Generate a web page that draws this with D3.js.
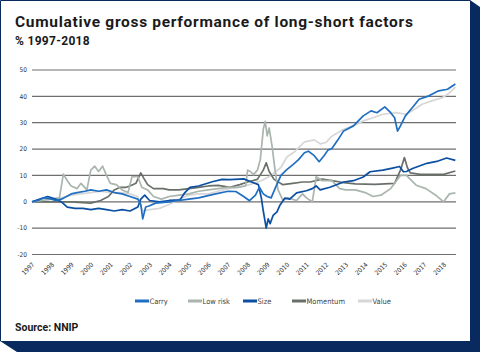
<!DOCTYPE html>
<html lang="en">
<head>
<meta charset="utf-8">
<title>Cumulative gross performance of long-short factors</title>
<script src="https://cdn.jsdelivr.net/npm/d3@7"></script>
<style>
    body { margin: 0; background: #fff; }
    svg { display: block; }
    .title { font-family: Roboto, "Noto Sans", sans-serif; font-weight: 700; fill: #1a1a1a; }
    .tick-lbl { font-family: "Liberation Sans Narrow", "DejaVu Sans Condensed", sans-serif; font-size: 6.5px; fill: #333; }
    .legend text { font-family: "Liberation Sans Narrow", "DejaVu Sans Condensed", sans-serif; font-size: 7.5px; fill: #444; }
    .grid line { stroke: #6f6f6f; stroke-width: 1.2; }
    .series { fill: none; stroke-width: 1.7; stroke-linejoin: round; }
</style>
</head>
<body>
<script>
// cumulative gross performance, % (year, value)
var carry = [[1997,0],[1997.3,0.5],[1997.6,1.5],[1997.9,1.2],[1998.2,0.5],[1998.5,1],[1999,3],[1999.3,3.5],
    [1999.7,4],[2000,4.5],[2000.4,4],[2000.8,4.5],[2001.2,3.5],[2001.6,3],[2002,2],[2002.4,1],[2002.55,-1],
    [2002.65,-6.5],[2002.8,-2],[2003,-1.5],[2003.3,-0.5],[2004,0],[2004.5,0.5],[2005,1],[2005.5,1.5],
    [2006.2,2.7],[2007,4],[2007.4,3.9],[2007.8,2],[2008.1,0.4],[2008.4,2.5],[2008.6,5.5],[2008.8,3],
    [2009,2],[2009.2,1.5],[2009.4,5],[2009.7,10],[2010,12.2],[2010.3,14],[2010.6,16],[2010.9,18.6],
    [2011.1,19.2],[2011.4,17.5],[2011.65,15.2],[2011.9,17.5],[2012.1,19.6],[2012.3,20.2],[2012.6,23.4],
    [2012.9,26.9],[2013.4,28.8],[2013.9,32.6],[2014.3,34.5],[2014.6,33.8],[2015,36],[2015.3,33.8],
    [2015.5,31.9],[2015.65,26.8],[2015.8,28.8],[2016.05,32.6],[2016.4,35.7],[2016.75,38.9],[2017.25,40.2],
    [2017.75,42.1],[2018.2,42.7],[2018.6,44.7]];

var lowRisk = [[1997,0],[1997.5,0.5],[1998,1],[1998.4,1.5],[1998.6,10.5],[1998.8,8],[1999,6],[1999.3,5],
    [1999.5,7],[1999.8,4.5],[2000,12],[2000.2,13.5],[2000.4,11.5],[2000.6,13.5],[2000.8,10],[2001,7],
    [2001.3,6.5],[2001.6,4.5],[2001.9,3.5],[2002.1,9.5],[2002.4,9.5],[2002.6,5.5],[2002.9,4.5],[2003.2,2],
    [2003.6,1],[2004,2],[2004.5,2.5],[2005,3],[2005.5,4],[2006,4.5],[2006.5,5],[2007,5.5],[2007.5,5.5],
    [2007.9,6],[2008,12],[2008.15,11.5],[2008.3,10.3],[2008.5,12],[2008.65,16],[2008.8,27.5],[2008.9,30.5],
    [2009,25],[2009.1,28],[2009.25,21],[2009.4,12],[2009.55,4.6],[2009.8,0.5],[2010.05,1.5],[2010.5,0.5],
    [2010.8,3],[2011,1.5],[2011.3,0],[2011.5,9.5],[2011.8,8],[2012.3,8],[2012.7,5],[2013,4.5],[2013.5,4.5],
    [2014,3.5],[2014.4,2],[2014.8,2.5],[2015.3,5],[2015.8,10],[2016.1,10],[2016.6,6.3],[2017.1,5],
    [2017.6,2.5],[2018,0],[2018.3,3],[2018.6,3.4]];

var size = [[1997,0],[1997.4,1],[1997.8,2],[1998.2,1],[1998.5,0],[1998.8,-2],[1999.2,-2.5],[1999.6,-2.5],
    [2000,-3],[2000.4,-2.5],[2000.8,-3],[2001.2,-3.5],[2001.6,-3],[2002,-3.5],[2002.4,-2],[2002.55,1],
    [2002.75,2.5],[2003,0.5],[2003.5,0],[2004,0.5],[2004.55,0.7],[2004.8,3.5],[2005.06,5.5],[2005.5,6],
    [2006.2,7.6],[2006.7,8.5],[2007.1,8.4],[2007.8,8.7],[2008.2,7.5],[2008.55,6.5],[2008.7,1.5],[2008.8,-3.5],
    [2008.95,-10],[2009.05,-6.5],[2009.15,-8.3],[2009.3,-5.2],[2009.5,-3.8],[2009.65,-1.3],[2009.9,1.4],
    [2010.15,1],[2010.5,3.4],[2011,4.2],[2011.3,5],[2011.5,6],[2011.7,4.5],[2012.2,5.5],[2012.9,7.5],
    [2013.4,8],[2013.9,9.4],[2014.25,11.4],[2014.9,12],[2015.4,12.8],[2015.75,13.4],[2015.95,11.4],
    [2016.1,11.5],[2016.45,12.7],[2017.15,14.6],[2017.65,15.3],[2018.15,16.6],[2018.6,15.7]];

var momentum = [[1997,0],[1998,0],[1999,0],[2000,-0.5],[2000.5,0.5],[2000.9,2],[2001.2,4.5],[2001.5,5.5],
    [2001.8,5.5],[2002,6],[2002.3,7],[2002.55,11],[2002.7,9],[2002.9,6.5],[2003.2,5],[2003.7,5],[2004,4.5],
    [2004.5,4.5],[2005,5],[2005.5,5.5],[2006,6],[2006.5,6.2],[2007.1,5.5],[2007.6,6.5],[2008,7.5],
    [2008.5,8.5],[2008.8,12],[2008.95,14.8],[2009.1,11.5],[2009.35,8.5],[2009.8,6.5],[2010.3,7],
    [2010.8,7.5],[2011.2,7.5],[2011.8,8.6],[2012.3,8],[2012.8,7.4],[2013.5,6.8],[2014.5,6.6],[2015.5,7],
    [2015.8,12],[2016,16.8],[2016.15,13],[2016.3,11],[2016.8,10.4],[2017.5,10.4],[2018,10.4],[2018.6,11.7]];

var value = [[1997,0],[1997.5,0.5],[1998,1],[1998.5,1.5],[1999,2.5],[1999.5,3],[2000,3.5],[2000.5,4],
    [2001,3.5],[2001.5,3.5],[2002,3],[2002.4,2],[2002.65,-3.5],[2003,-3],[2003.5,-2.5],[2004,-1],[2004.5,1],
    [2005,2.5],[2005.5,3],[2006,3],[2006.5,4],[2007,5],[2007.5,5.5],[2008.1,6.5],[2008.7,8],[2009.2,10],
    [2009.7,13],[2010,17],[2010.4,19],[2010.9,22.7],[2011.4,23.5],[2011.7,22],[2012,22.5],[2012.3,24.9],
    [2012.9,27.5],[2013.4,28.8],[2013.9,30.7],[2014.4,31.9],[2014.9,33.2],[2015.6,33.8],[2016.1,33.2],
    [2016.64,35.7],[2016.9,37],[2017.4,38.3],[2017.9,39.4],[2018.3,41.3],[2018.6,43.5]];

var seriesNames = ['Carry', 'Low risk', 'Size', 'Momentum', 'Value'];
var seriesColors = ['#1f6ec2', '#a9b5ad', '#0b4fa3', '#697069', '#d7d7d7'];
var seriesData = [carry, lowRisk, size, momentum, value];

var yTicks = [50, 40, 30, 20, 10, 0, -10, -20];
var xYears = d3.range(1997, 2019);

var W = 480, H = 352;
var svg = d3.select('body').append('svg').attr('width', W).attr('height', H);

// card with navy drop shadow
svg.append('polygon')
    .attr('points', [[470,0],[480,7],[480,352],[17,352],[0,341],[470,341]].join(' '))
    .attr('fill', '#082a5e');
svg.append('rect').attr('x', 0).attr('y', 0).attr('width', 470).attr('height', 341).attr('fill', '#fff');
svg.append('path').attr('d', 'M0.5,341V0.5H470').attr('fill', 'none').attr('stroke', '#082a5e').attr('stroke-width', 1);

svg.append('text').attr('class', 'title').attr('x', 15).attr('y', 26.5)
    .style('font-size', '15.5px').style('letter-spacing', '0.7px')
    .text('Cumulative gross performance of long-short factors');
svg.append('text').attr('class', 'title').attr('x', 15).attr('y', 44.5)
    .style('font-size', '12px').style('letter-spacing', '0.3px').text('% 1997-2018');
svg.append('text').attr('class', 'title').attr('x', 15).attr('y', 331)
    .style('font-size', '10.5px').text('Source: NNIP');

var x = d3.scaleLinear().domain([1997, 2018]).range([32, 443.6]);
var y = d3.scaleLinear().domain([-20, 50]).range([254.5, 70]);

var grid = svg.append('g').attr('class', 'grid');
grid.selectAll('line').data(yTicks).enter().append('line')
    .attr('x1', 32).attr('x2', 456)
    .attr('y1', function (d) { return y(d); })
    .attr('y2', function (d) { return y(d); });

svg.append('g').selectAll('text').data(yTicks).enter().append('text')
    .attr('class', 'tick-lbl')
    .attr('x', 27).attr('y', function (d) { return y(d) + 2.3; })
    .attr('text-anchor', 'end')
    .text(function (d) { return d; });

svg.append('g').selectAll('text').data(xYears).enter().append('text')
    .attr('class', 'tick-lbl')
    .attr('text-anchor', 'end')
    .attr('transform', function (d) { return 'translate(' + (x(d) + 3) + ',265) rotate(-45)'; })
    .text(function (d) { return d; });

var line = d3.line()
    .x(function (d) { return x(d[0]); })
    .y(function (d) { return y(d[1]); });

var drawOrder = [4, 3, 1, 2, 0];
drawOrder.forEach(function (i) {
    svg.append('path')
        .attr('class', 'series')
        .attr('d', line(seriesData[i]))
        .attr('stroke', seriesColors[i]);
});

// legend
var legendX = [135, 188, 243, 292, 358];
var legend = svg.append('g').attr('class', 'legend');
seriesNames.forEach(function (name, i) {
    legend.append('line')
        .attr('x1', legendX[i]).attr('x2', legendX[i] + 14)
        .attr('y1', 301).attr('y2', 301)
        .attr('stroke', seriesColors[i]).attr('stroke-width', 3);
    legend.append('text')
        .attr('x', legendX[i] + 14.5).attr('y', 303.5)
        .text(name);
});
</script>
</body>
</html>
